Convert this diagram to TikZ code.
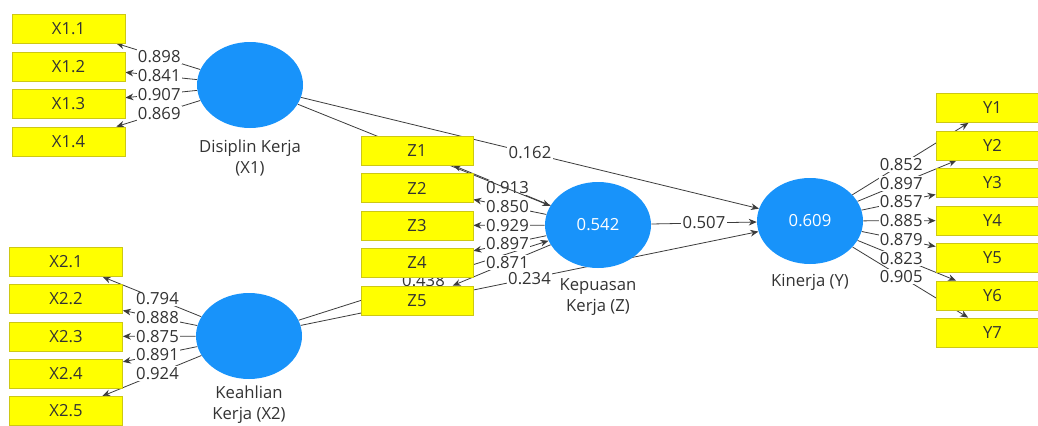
\documentclass[tikz,border=0pt]{standalone}
\usepackage{fontspec}
\setmainfont{Open Sans}
\usetikzlibrary{shapes.geometric,arrows.meta,calc}
\definecolor{boxfill}{RGB}{255,255,0}
\definecolor{boxline}{RGB}{205,200,20}
\definecolor{lvfill}{RGB}{24,147,250}
\definecolor{txt}{RGB}{51,51,51}
\definecolor{wire}{RGB}{60,60,60}
\pgfdeclarelayer{paper}
\pgfdeclarelayer{wires}
\pgfsetlayers{paper,wires,main}
\tikzset{
  indicator/.style={rectangle, draw=boxline, line width=0.6pt, fill=boxfill,
    minimum width=84.75pt, minimum height=21.75pt, inner sep=0pt,
    font=\fontsize{12.5}{14}\selectfont, text=txt},
  zind/.style={indicator, minimum width=84pt},
  latent/.style={ellipse, fill=lvfill, minimum width=79.5pt, minimum height=64.5pt,
    inner sep=0pt, font=\fontsize{12.5}{14}\selectfont, text=white},
  lvname/.style={font=\fontsize{12.5}{15.75}\selectfont, text=txt, align=center},
  conn/.style={draw=wire, line width=0.6pt, -{Stealth[length=6pt,width=5pt]}},
  coef/.style={fill=white, inner sep=1pt, font=\fontsize{12.5}{14}\selectfont, text=txt},
}
% line from #1 to #2 with its coefficient #3 at the centre-to-centre midpoint
\newcommand\linkwith[3]{%
  \draw[conn] (#1) -- (#2);
  \node[coef] at ($(#1.center)!0.5!(#2.center)$) {#3};}
\begin{document}
\begin{tikzpicture}[x=0.75pt,y=-0.75pt]
\useasboundingbox (0,0) rectangle (1038,425);
\begin{pgfonlayer}{paper}
  \fill[white] (0,0) rectangle (1038,425);
\end{pgfonlayer}

% latent variables
\node[latent] (X1) at (250,85) {};
\node[latent] (X2) at (249,336) {};
\node[latent] (Z) at (598,225) {0.542};
\node[latent] (Y) at (810,221) {0.609};

\node[lvname] (nX1) at (250,157.5) {Disiplin Kerja\\(X1)};
\node[lvname] (nX2) at (249,405) {Keahlian\\Kerja (X2)};
\node[lvname] (nZ) at (598,297.5) {Kepuasan\\Kerja (Z)};
\node[lvname] (nY) at (810,282) {Kinerja (Y)};

% indicators of X1
\node[indicator] (X11) at (68.5,28.5) {X1.1};
\node[indicator] (X12) at (68.5,66.5) {X1.2};
\node[indicator] (X13) at (68.5,103.5) {X1.3};
\node[indicator] (X14) at (68.5,141.5) {X1.4};
% indicators of X2
\node[indicator] (X21) at (66,262) {X2.1};
\node[indicator] (X22) at (66,299) {X2.2};
\node[indicator] (X23) at (66,336.5) {X2.3};
\node[indicator] (X24) at (66,373.5) {X2.4};
\node[indicator] (X25) at (66,411) {X2.5};
% indicators of Z
\node[zind] (Z1) at (417,150.5) {Z1};
\node[zind] (Z2) at (417,188) {Z2};
\node[zind] (Z3) at (417,225.5) {Z3};
\node[zind] (Z4) at (417,262.5) {Z4};
\node[zind] (Z5) at (417,300.5) {Z5};
% indicators of Y
\node[indicator] (Y1) at (992.5,108) {Y1};
\node[indicator] (Y2) at (992.5,145.5) {Y2};
\node[indicator] (Y3) at (992.5,182.5) {Y3};
\node[indicator] (Y4) at (992.5,220.5) {Y4};
\node[indicator] (Y5) at (992.5,258) {Y5};
\node[indicator] (Y6) at (992.5,295.5) {Y6};
\node[indicator] (Y7) at (992.5,332.5) {Y7};

\begin{pgfonlayer}{wires}
  % inner model
  \linkwith{X1}{Y}{0.162}
  \linkwith{X2}{Z}{0.438}
  % outer loadings of Z
  \linkwith{Z}{Z1}{0.913}
  \linkwith{Z}{Z2}{0.850}
  \linkwith{Z}{Z3}{0.929}
  \linkwith{Z}{Z4}{0.897}
  \linkwith{Z}{Z5}{0.871}
  \draw[conn] (X1) -- (Z);
  \linkwith{X2}{Y}{0.234}
  \linkwith{Z}{Y}{0.507}
  % outer loadings of X1
  \linkwith{X1}{X11}{0.898}
  \linkwith{X1}{X12}{0.841}
  \linkwith{X1}{X13}{0.907}
  \linkwith{X1}{X14}{0.869}
  % outer loadings of X2
  \linkwith{X2}{X21}{0.794}
  \linkwith{X2}{X22}{0.888}
  \linkwith{X2}{X23}{0.875}
  \linkwith{X2}{X24}{0.891}
  \linkwith{X2}{X25}{0.924}
  % outer loadings of Y
  \linkwith{Y}{Y1}{0.852}
  \linkwith{Y}{Y2}{0.897}
  \linkwith{Y}{Y3}{0.857}
  \linkwith{Y}{Y4}{0.885}
  \linkwith{Y}{Y5}{0.879}
  \linkwith{Y}{Y6}{0.823}
  \linkwith{Y}{Y7}{0.905}
\end{pgfonlayer}
\end{tikzpicture}
\end{document}
